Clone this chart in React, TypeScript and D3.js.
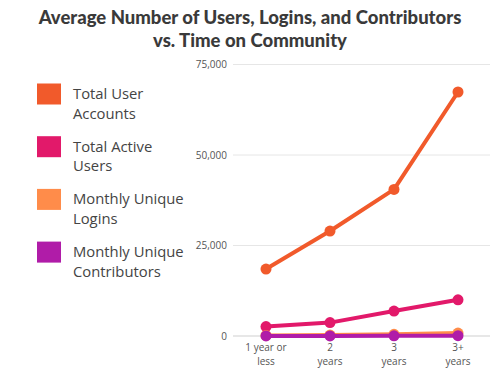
import React from "react";
import * as d3 from "d3";

const categories = ["1 year or less", "2 years", "3 years", "3+ years"];
const categoryLines = [["1 year or", "less"], ["2", "years"], ["3", "years"], ["3+", "years"]];
const seriesNames = ["Total User Accounts", "Total Active Users", "Monthly Unique Logins", "Monthly Unique Contributors"];
const legendLines = [["Total User", "Accounts"], ["Total Active", "Users"], ["Monthly Unique", "Logins"], ["Monthly Unique", "Contributors"]];
const totalUserAccounts = [18500, 29000, 40500, 67400];
const totalActiveUsers = [2600, 3700, 6900, 10000];
const monthlyUniqueLogins = [150, 250, 450, 800];
const monthlyUniqueContributors = [20, 30, 50, 80];
const yTicks = [0, 25000, 50000, 75000];
const colors = ["#F15A2B", "#E2196A", "#FF8C4A", "#B01CA8"];

const series = [totalUserAccounts, totalActiveUsers, monthlyUniqueLogins, monthlyUniqueContributors];

export default function App() {
  const W = 500, H = 375;
  const x = d3.scalePoint<string>().domain(categories).range([266, 458]);
  const y = d3.scaleLinear().domain([0, 75000]).range([336, 64.5]);
  const line = d3.line<number>().x((_, i) => x(categories[i])!).y((d) => y(d));
  const fmt = d3.format(",");
  const drawOrder = [0, 1, 2, 3];
  return (
    <svg width={W} height={H} style={{ position: "absolute", left: 0, top: 0, background: "#fff" }}>
      <text x={250} y={24} textAnchor="middle" fontFamily="Lato, 'Open Sans', sans-serif" fontWeight={900} fontSize={18.5} fill="#3a3a3a">
        Average Number of Users, Logins, and Contributors
      </text>
      <text x={250} y={47} textAnchor="middle" fontFamily="Lato, 'Open Sans', sans-serif" fontWeight={900} fontSize={18.5} fill="#3a3a3a">
        vs. Time on Community
      </text>
      {legendLines.map((lines, i) => (
        <g key={seriesNames[i]} transform={`translate(0, ${83.5 + i * 52.7})`}>
          <rect x={37} y={0} width={24} height={21} fill={colors[i]} />
          {lines.map((t, j) => (
            <text key={j} x={73} y={15.5 + j * 19.5} fontFamily="'Open Sans', Roboto, sans-serif" fontSize={14.8} fill="#444">
              {t}
            </text>
          ))}
        </g>
      ))}
      {yTicks.map((t) => (
        <g key={t}>
          <line x1={233} x2={490} y1={y(t)} y2={y(t)} stroke={t === 0 ? "#cfcfcf" : "#e6e6e6"} strokeWidth={1} />
          <text x={227} y={y(t)} dy="0.35em" textAnchor="end" fontFamily="'Open Sans', Roboto, sans-serif" fontSize={10} fill="#555">
            {fmt(t)}
          </text>
        </g>
      ))}
      {categoryLines.map((lines, i) => (
        <g key={categories[i]}>
          {lines.map((t, j) => (
            <text key={j} x={x(categories[i])!} y={351 + j * 13.5} textAnchor="middle" fontFamily="'Open Sans', Roboto, sans-serif" fontSize={10} fill="#555">
              {t}
            </text>
          ))}
        </g>
      ))}
      {drawOrder.map((si) => (
        <g key={seriesNames[si]}>
          <path d={line(series[si]) || ""} fill="none" stroke={colors[si]} strokeWidth={4} strokeLinejoin="round" />
          {series[si].map((v, i) => (
            <circle key={i} cx={x(categories[i])!} cy={y(v)} r={5.5} fill={colors[si]} />
          ))}
        </g>
      ))}
    </svg>
  );
}
